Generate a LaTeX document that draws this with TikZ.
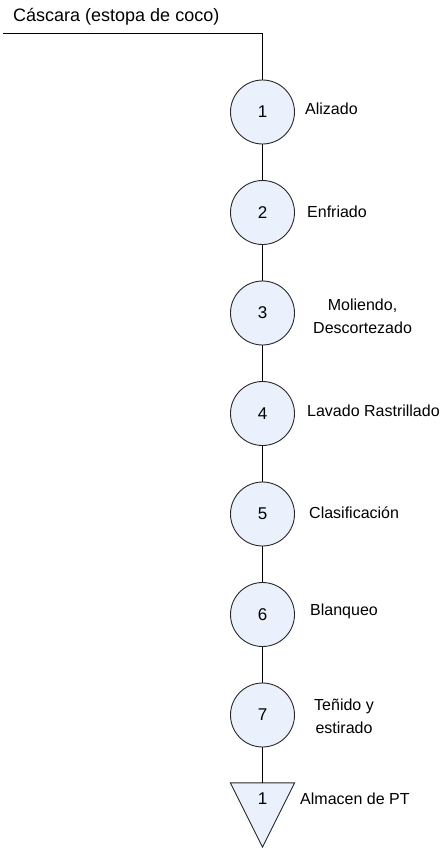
\documentclass[tikz,border=0pt]{standalone}
\usepackage{fontspec}
\setmainfont{Liberation Sans}
\definecolor{stepfill}{RGB}{235,241,252}
\definecolor{stepline}{RGB}{40,40,40}
\begin{document}
\begin{tikzpicture}[x=1pt,y=-1pt,
  opstep/.style={circle,draw=stepline,fill=stepfill,line width=0.9pt,
    minimum size=64pt,inner sep=0pt,font=\fontsize{17}{20}\selectfont},
  steplabel/.style={anchor=west,align=center,inner sep=0pt,
    font=\fontsize{16}{23}\selectfont},
  flow/.style={draw=black,line width=0.9pt}]
\useasboundingbox (0,0) rectangle (444,848);

% title of the incoming material
\node[anchor=west,inner sep=0pt,font=\fontsize{18}{21}\selectfont] (title) at (13,17) {Cáscara (estopa de coco)};
\coordinate (in) at (3,33.5);
\coordinate (corner) at (262.5,33.5);

% process operations
\node[opstep] (s1) at (262.5,112) {1};
\node[opstep] (s2) at (262.5,212.5) {2};
\node[opstep] (s3) at (262.5,313) {3};
\node[opstep] (s4) at (262.5,413.5) {4};
\node[opstep] (s5) at (262.5,514) {5};
\node[opstep] (s6) at (262.5,614.5) {6};
\node[opstep] (s7) at (262.5,715) {7};

% storage (inverted triangle)
\node[minimum width=64pt,minimum height=64pt,inner sep=0pt] (store) at (262.5,815) {};
\draw[draw=stepline,fill=stepfill,line width=0.9pt,line join=miter]
  (store.north west) -- (store.north east) -- (store.south) -- cycle;
\node[inner sep=0pt,font=\fontsize{17}{20}\selectfont] (storenum) at (262.5,799) {1};

% operation labels
\node[steplabel] (l1) at (305,109) {Alizado};
\node[steplabel] (l2) at (307,212) {Enfriado};
\node[steplabel] (l3) at (313,316) {Moliendo,\\Descortezado};
\node[steplabel] (l4) at (307,411) {Lavado Rastrillado};
\node[steplabel] (l5) at (309,513) {Clasificación};
\node[steplabel] (l6) at (310,611) {Blanqueo};
\node[steplabel] (l7) at (314,716) {Teñido y\\estirado};
\node[steplabel] (l8) at (300,799) {Almacen de PT};

% flow lines
\draw[flow] (in) -- (corner) -- (s1.north);
\draw[flow] (s1) -- (s2);
\draw[flow] (s2) -- (s3);
\draw[flow] (s3) -- (s4);
\draw[flow] (s4) -- (s5);
\draw[flow] (s5) -- (s6);
\draw[flow] (s6) -- (s7);
\draw[flow] (s7.south) -- (store.north);
\end{tikzpicture}
\end{document}
